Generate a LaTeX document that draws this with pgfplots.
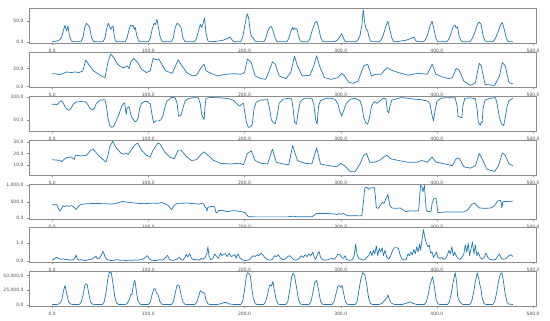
\documentclass[border=0pt]{standalone}
\usepackage{fontspec}
\setmainfont{DejaVu Sans}
\usepackage{pgfplots}
\pgfplotsset{compat=1.18}
\definecolor{mplblue}{RGB}{31,119,180}

\pgfplotsset{
  panel/.style={
    scale only axis, width=507pt, height=35.5pt,
    xmin=-24, xmax=503,
    xtick={0,100,200,300,400,500},
    xtick pos=bottom, ytick pos=left,
    tick align=outside, major tick length=2pt,
    axis line style={draw=black!45, line width=0.5pt},
    tick style={draw=black!45, line width=0.4pt},
    ticklabel style={font=\fontsize{4.5}{5}\selectfont, text=black!70},
    xticklabel style={yshift=-0.3pt},
    scaled ticks=false,
    /pgf/number format/fixed,
    /pgf/number format/fixed zerofill,
    /pgf/number format/precision=1,
    /pgf/number format/1000 sep={,},
    /pgf/number format/assume math mode=true,
  },
  ln/.style={draw=mplblue, line width=0.7pt, line join=round, mark=none},
}

\begin{document}
\begin{tikzpicture}
\path[use as bounding box] (0,0) rectangle (550pt,321pt);

% panel 1
\begin{axis}[panel, at={(29pt,313pt)}, anchor=north west, ymin=-4, ymax=82, ytick={0,50}]
\addplot[ln] coordinates {
(0,0)(5,2)(8,5)(10,12)(12,30)(13.5,40)(15,26)(16.5,38)(18,15)(20,2)(22,0)
(30,0)(32,10)(34,35)(35.5,45)(37,42)(39,35)(41,10)(43,1)(45,0)
(53,0)(55,10)(57,35)(58.5,45)(60,36)(61,30)(62,35)(63.5,38)(64.5,15)(66,2)(68,0)
(76,0)(78,10)(80,30)(81.5,40)(83,38)(84,41)(85.5,30)(86.5,35)(88,15)(90,2)(92,0)
(100,0)(102,8)(104,30)(106,45)(107.5,42)(109,55)(110.5,35)(112,15)(114,2)(116,0)
(124,0)(126,10)(128,35)(130,45)(132,42)(134,35)(136,10)(138,1)(140,0)
(148,0)(150,8)(152,25)(154,42)(155.5,35)(157,45)(158.5,58)(160,20)(162,2)(164,0)
(170,1)(178,4)(183,9)(185,12)(187,5)(189,0)
(196,0)(198,10)(200,35)(202,60)(203,68)(204.5,55)(206,25)(207.5,12)(209,10)(211,2)(213,0)
(220,0)(222,8)(224,25)(226,35)(228,37)(230,25)(232,8)(234,0)
(244,0)(246,8)(248,25)(250,35)(251,30)(252,33)(253.5,30)(254.5,32)(256,15)(258,2)(260,0)
(266,0)(268,8)(270,25)(273,45)(275,50)(277,35)(279,12)(281,2)(283,0)
(293,0)(296,3)(299,12)(301,20)(303,8)(305,0)
(316,0)(318,5)(320,15)(322,40)(323.5,78)(325,45)(326.5,30)(328,28)(329,15)(331,2)(333,0)
(340,0)(342,5)(344,15)(347,38)(349,50)(351,30)(353,10)(355,1)(357,0)
(360,1)(368,4)(373,8)(376,12)(378,3)(380,0)
(386,0)(388,5)(390,15)(393,40)(395,50)(397,30)(399,8)(401,0)
(410,0)(412,5)(414,15)(417,38)(419,40)(420,33)(421.5,36)(423,15)(425,3)(427,0)
(434,0)(436,5)(439,20)(442,42)(444,48)(446,42)(448,15)(450,2)(452,0)
(458,0)(460,5)(463,20)(466,40)(468,47)(470,30)(472,10)(474,1)(476,0)(479,0)
};
\end{axis}

% panel 2
\begin{axis}[panel, at={(29pt,269pt)}, anchor=north west, ymin=-1.2, ymax=38.5, ytick={0,20}]
\addplot[ln] coordinates {
(0,14.3)(4,14)(8,13.2)(12,14.7)(15,16.2)(20,15.5)(24,16.2)(28,15.5)(32,17.4)(35,29.4)(39,23)(43,17.4)
(50,12.5)(55,9.8)(58,26.8)(61,36.2)(64,32.5)(68,24.9)(72,21.5)(75,21.1)(78,23)(80,20)(82,27.5)(85,31.3)
(89,26.8)(93,19.2)(98,15.5)(102,17.4)(105,31.3)(108,29.8)(111,30.6)(114,24.9)(118,17.4)(125,14.7)
(131,29.8)(135,23)(140,15.5)(146,11.7)(150,12.5)(155,21.1)(158,24.9)(160,17.4)(165,14.7)(172,11.7)
(180,13.6)(190,14.3)(196,13.6)(200,15.5)(203,30.6)(207,26.8)(211,11.7)(217,8.7)(222,7.9)(225,15.5)
(229,27.5)(232,24.9)(236,11.7)(243,8.7)(248,15.5)(252,33.6)(255,23)(260,11.7)(268,12.5)(272,23)
(275,34.3)(278,23)(283,9.8)(290,7.9)(297,9.8)(301,14.7)(304,11.7)(308,4.9)(313,3.4)(318,6)
(324,23)(328,24.9)(332,11.7)(336,13.6)(342,13.6)(348,21.1)(352,18.5)(360,15.5)(370,12.5)(380,14.7)
(390,13.6)(395,24.9)(399,13.6)(405,10.9)(412,8.7)(416,9.8)(420,20)(423,18.5)(428,6)(435,1.1)
(440,4.2)(444,26)(446,23)(450,2.3)(460,1.1)(465,11.7)(468,26.8)(471,23)(475,4.2)(479,3)
};
\end{axis}

% panel 3
\begin{axis}[panel, at={(29pt,225pt)}, anchor=north west, ymin=25, ymax=102, ytick={50,100}]
\addplot[ln] coordinates {
(0,84)(3,84)(5,83)(8,89)(10,92)(12,85)(14,76)(17,71)(19,73)(22,84)(25,89)(30,90)(35,89)(37,84)(39,76)
(42,72)(44,75)(46,86)(50,93)(55,94)(56.5,80)(58,55)(60,38)(62,34)(64,36)(67,50)(70,65)(72,78)(74,85)
(75.5,87)(76.5,70)(77,62)(78,76)(80,79)(81,70)(82,60)(83,55)(85,50)(86,46)(88,48)(89.5,55)(91,75)(93,86)
(96,90)(99,90)(102,85)(104,60)(105.5,44)(108,48)(111,48)(113,50)(115,58)(117,75)(119,90)(122,95)(124,99)
(128,98)(130,85)(131.5,58)(134,60)(136,75)(138,90)(141,96)(146,98)(152,98)(154,85)(155.5,62)(157,55)
(158,51)(159,80)(160,97)(165,99)(170,98)(175,98)(180,97)(184,96)(188,93)(190,90)(192,85)(195,80)(197,84)
(199,86)(200,70)(202,45)(204,34)(206,35)(208,40)(210,75)(212,88)(216,93)(224,94)(226,75)(228,50)(230,44)
(232,42)(234,60)(236,86)(240,95)(246,97)(249,96)(250.5,75)(252,45)(254,41)(256,70)(258,90)(262,97)
(270,97)(272,85)(274,50)(275.5,41)(277,80)(279,92)(285,97)(290,97)(294,95)(297,85)(299,70)(301,58)
(303,70)(306,86)(310,95)(315,97)(320,92)(322,80)(324,55)(326,44)(328,41)(330,55)(332,80)(335,90)(338,86)
(341,92)(344,97)(347,96)(348.5,70)(350,65)(351,78)(353,93)(358,96)(363,98.5)(370,97)(377,95)(384,94)
(388,92)(391,90)(393,83)(395,60)(396.5,48)(398,70)(400,90)(404,97)(410,98.5)(419,98)(421,80)(422,58)
(424,56)(426,55)(427,80)(429,97)(435,98)(440,96)(442,70)(443,45)(444,42)(445,38)(446,45)(447,44)(448,75)
(450,93)(455,97)(461,98.5)(463,80)(465,55)(467,42)(469.5,38)(471,55)(473,80)(475,92)(479,97)
};
\end{axis}

% panel 4
\begin{axis}[panel, at={(29pt,181pt)}, anchor=north west, ymin=1, ymax=31.5, ytick={10,20,30}]
\addplot[ln] coordinates {
(0,14.5)(4,14.3)(8,14)(10,12.8)(12,14.5)(15,16.3)(20,16.9)(23,14.8)(24,17.5)(25,18.4)(30,17.8)(36,18.4)
(40,22.8)(43,23.4)(48,18.4)(52,15.4)(56,12.5)(58,18)(60,25.8)(63,30.3)(67,24.3)(72,19.9)(75,19.3)(77,20.4)
(79,19)(81,21.3)(86,27.3)(89,28.8)(93,22.8)(98,18.4)(102,16.9)(105,22.8)(110,28.8)(112,28.2)(117,21.3)
(122,16.9)(127,15.4)(131,22.8)(134,22.8)(140,16.9)(145,13.9)(150,14.5)(154,18.4)(158,21.3)(162,18.4)
(168,13.9)(175,11.5)(185,10.9)(195,11.5)(199,10.3)(203,19.9)(207,22.2)(211,13.9)(217,11.5)(224,10.9)
(229,23.5)(233,12.4)(240,10.9)(246,10.3)(250,26.7)(255,13.9)(263,11.5)(270,10.9)(275,24.8)(279,10.9)
(288,9.4)(296,8.5)(300,11.5)(304,9.4)(310,4.3)(315,4.3)(320,10.9)(324,18.4)(327,19.9)(330,12.4)
(335,12.4)(340,13.9)(345,16.9)(348,18.4)(352,15.4)(360,13.9)(370,12.4)(380,12.4)(384,13.9)(390,12.4)
(395,16.9)(399,12.4)(405,11.5)(412,10.3)(416,9.4)(420,15.4)(423,16)(428,8.5)(435,7.3)(440,9.4)
(444,19.9)(447,15.4)(452,6.4)(460,4.5)(464,9.4)(468,20.4)(471,18.4)(475,10.9)(479,9.4)
};
\end{axis}

% panel 5
\begin{axis}[panel, at={(29pt,137pt)}, anchor=north west, ymin=-40, ymax=1040, ytick={0,500,1000}]
\addplot[ln] coordinates {
(0,410)(5,410)(6,330)(8,220)(10,300)(11,380)(13,350)(15,380)(17,360)(19,380)(21,370)(23,330)(25,260)
(27,350)(30,420)(33,430)(37,440)(45,450)(55,440)(62,430)(65,440)(70,480)(73,510)(80,480)(90,450)
(96,440)(105,460)(110,450)(114,475)(118,430)(121,380)(124,260)(127,390)(130,450)(140,460)(148,440)
(153,430)(156,450)(158,420)(159,330)(160,320)(161,220)(162,330)(165,355)(169,350)(170,200)(171,160)
(173,230)(177,240)(180,210)(183,200)(186,220)(190,230)(194,210)(198,190)(201,160)(203,80)(204,45)
(210,40)(230,40)(245,40)(250,60)(254,45)(270,45)(273,100)(275,145)(285,145)(293,130)(296,110)(299,140)
(301,120)(303,145)(305,100)(308,75)(320,70)(322,75)(324,600)(325,920)(327,940)(329,880)(331,920)
(335,930)(336,700)(337,320)(339,300)(341,380)(343,480)(345,450)(347,600)(349,720)(351,400)(353,310)
(357,300)(362,310)(365,250)(368,200)(372,225)(378,215)(381,230)(382,600)(383,1000)(384.5,950)
(385.5,800)(387,1000)(388,600)(389,220)(392,200)(394,210)(395,450)(397,600)(399,610)(400,400)
(401,170)(405,180)(410,190)(420,185)(428,190)(432,250)(436,420)(439,460)(441,400)(444,310)(450,300)
(456,310)(460,380)(463,520)(466,540)(467,450)(467.5,310)(468.5,500)(470,510)(475,510)(479,520)
};
\end{axis}

% panel 6
\begin{axis}[panel, at={(29pt,94pt)}, anchor=north west, ymin=-0.08, ymax=1.9, ytick={0,1}]
\addplot[ln] coordinates {
(0,0.05)(2,0.1)(4,0.2)(6,0.18)(8,0.12)(10,0.1)(12,0.12)(14,0.08)(16,0.1)(18,0.05)(20,0.06)(22,0.08)
(24,0.2)(25,0.35)(26,0.12)(28,0.05)(30,0.08)(32,0.05)(34,0.03)(36,0.05)(38,0.08)(40,0.1)(42,0.12)
(44,0.2)(45.5,0.28)(47,0.12)(49,0.15)(51,0.3)(53,0.55)(55,0.25)(57,0.08)(59,0.05)(62,0.03)(65,0.05)
(68,0.08)(71,0.04)(74,0.06)(77,0.03)(80,0.05)(83,0.04)(86,0.06)(89,0.05)(92,0.08)(95,0.12)(98,0.25)
(99,0.3)(101,0.12)(103,0.05)(106,0.03)(109,0.04)(112,0.08)(115,0.05)(118,0.2)(120,0.32)(122,0.1)
(124,0.05)(127,0.04)(130,0.12)(132,0.2)(134,0.08)(136,0.05)(138,0.2)(139.5,0.38)(141,0.22)(143,0.42)
(145,0.15)(147,0.08)(149,0.1)(151,0.06)(153,0.05)(155,0.15)(157,0.1)(159,0.2)(161,0.45)(162,0.8)
(163,0.3)(165,0.08)(167,0.12)(169,0.4)(171,0.25)(173,0.15)(175,0.45)(176.5,0.3)(178,0.38)(180,0.42)
(182,0.25)(184,0.45)(186,0.25)(188,0.3)(190,0.35)(191.5,0.15)(193,0.4)(195,0.2)(197,0.08)(199,0.04)
(201,0.03)(203,0.05)(205,0.08)(207,0.2)(209,0.3)(211,0.25)(213,0.35)(215,0.3)(217,0.45)(219,0.35)
(221,0.2)(223,0.12)(225,0.06)(227,0.05)(229,0.1)(231,0.3)(233,0.25)(235,0.35)(237,0.2)(239,0.1)
(241,0.08)(243,0.15)(245,0.25)(247,0.3)(249,0.2)(251,0.08)(253,0.05)(255,0.08)(257,0.15)(259,0.3)
(261,0.2)(263,0.35)(265,0.25)(267,0.4)(269,0.3)(271,0.5)(272.5,0.2)(274,0.1)(276,0.4)(277.5,0.55)
(279,0.2)(281,0.08)(283,0.05)(285,0.06)(287,0.08)(289,0.12)(291,0.15)(293,0.1)(295,0.2)(297,0.38)
(299,0.35)(301,0.2)(303,0.15)(304.5,0.3)(306,0.1)(308,0.05)(310,0.05)(312,0.08)(314,0.3)(315.5,0.95)
(317,0.35)(319,0.12)(321,0.1)(323,0.05)(325,0.08)(327,0.2)(329,0.3)(331,0.55)(332.5,0.3)(334,0.6)
(335.5,0.4)(337,0.85)(338.5,0.3)(340,0.7)(341.5,0.5)(343,0.75)(344.5,0.3)(346,0.6)(348,0.2)(350,0.12)
(352,0.3)(354,0.6)(356,0.75)(358,0.75)(360,0.7)(362,0.3)(364,0.1)(366,0.06)(368,0.08)(370,0.4)
(371.5,0.3)(373,0.5)(374.5,0.35)(376,0.65)(377.5,0.4)(379,0.8)(380.5,0.5)(382,0.95)(383,0.6)
(384.5,1.2)(386,1.75)(387.5,1.3)(389,1.0)(390.5,0.8)(392,0.9)(393.5,0.45)(395,0.5)(396.5,0.2)
(398,0.35)(399.5,0.5)(401,0.2)(403,0.15)(405,0.2)(407,0.1)(409,0.15)(411,0.35)(412.5,0.6)(414,0.4)
(415.5,0.8)(417,0.3)(418.5,0.5)(420,0.3)(422,0.15)(424,0.1)(426,0.2)(428,0.4)(429.5,0.9)(431,0.5)
(432.5,1.0)(434,0.3)(435.5,0.7)(437,1.05)(438.5,0.4)(440,0.9)(441.5,0.3)(443,0.5)(445,0.2)(447,0.1)
(449,0.2)(451,0.45)(453,0.2)(455,0.1)(457,0.08)(459,0.06)(461,0.1)(463,0.25)(465,0.4)(467,0.15)
(469,0.1)(471,0.12)(473,0.2)(475,0.3)(477,0.35)(479,0.25)
};
\end{axis}

% panel 7
\begin{axis}[panel, at={(29pt,50pt)}, anchor=north west, ymin=-3000, ymax=58000, ytick={0,25000,50000}]
\addplot[ln] coordinates {
(0,300)(5,500)(8,2000)(10,8000)(12,25000)(13.5,33000)(15,20000)(17,6000)(19,1500)(21,500)
(28,500)(30,3000)(32,15000)(34,33000)(35,36000)(36.5,35000)(38,20000)(40,5000)(42,800)(45,500)
(52,500)(54,4000)(56,20000)(58,45000)(59.5,56000)(61.5,55000)(63,40000)(65,15000)(67,3000)(69,600)
(76,500)(78,2000)(80,8000)(82,18000)(83,17000)(84.5,35000)(86,42000)(87.5,25000)(89,8000)(91,1500)(93,500)
(100,500)(102,4000)(104,18000)(106,28000)(107.5,27000)(108.5,20000)(110,18000)(112,6000)(114,800)(116,500)
(124,500)(126,5000)(128,20000)(130,34000)(132,33000)(134,18000)(136,5000)(138,800)(140,500)
(148,500)(150,3000)(152,12000)(154,24000)(155.5,22000)(157,21000)(158.5,20000)(160,8000)(162,1500)(164,500)
(172,500)(176,2000)(179,4000)(181,3800)(184,1500)(188,500)
(196,500)(198,5000)(200,25000)(202,50000)(203,55000)(204.5,54000)(206,50000)(207.5,30000)(209,12000)(211,2000)(213,500)
(220,500)(222,5000)(224,18000)(226,33000)(227,34000)(228,32000)(229.5,40000)(231,25000)(233,8000)(235,1000)(237,500)
(243,500)(245,5000)(247,25000)(249,48000)(250.5,54000)(252,50000)(254,30000)(256,10000)(258,1500)(260,500)
(267,500)(269,5000)(271,20000)(273,38000)(275,42000)(277,25000)(279,6000)(281,800)(283,500)
(291,500)(293,5000)(295,18000)(297,32000)(298.5,33000)(300,30000)(301.5,33000)(303,20000)(305,5000)(307,800)(309,500)
(315,500)(317,5000)(319,25000)(321,45000)(323,55000)(325,52000)(327,35000)(329,12000)(331,2000)(333,500)
(340,500)(343,2500)(346,8000)(348,12000)(349,17000)(350.5,10000)(352.5,3000)(355,800)(357,500)
(364,500)(368,2500)(372,5000)(375,2500)(379,500)
(387,500)(389,5000)(391,18000)(393,36000)(395.5,48000)(397.5,30000)(399,10000)(401,1500)(403,500)
(411,500)(413,5000)(415,20000)(417,40000)(419,55000)(420.5,40000)(421.5,15000)(422.5,9000)(424,5000)(426,1000)(428,500)
(434,500)(436,5000)(438,20000)(440,40000)(442,55000)(443.5,45000)(444.5,35000)(445.5,30000)(447,12000)(449,2000)(451,500)
(458,500)(460,5000)(462,20000)(464,40000)(466,53000)(467.5,55000)(469,42000)(471,18000)(473,4000)(475,800)(479,500)
};
\end{axis}
\end{tikzpicture}
\end{document}
